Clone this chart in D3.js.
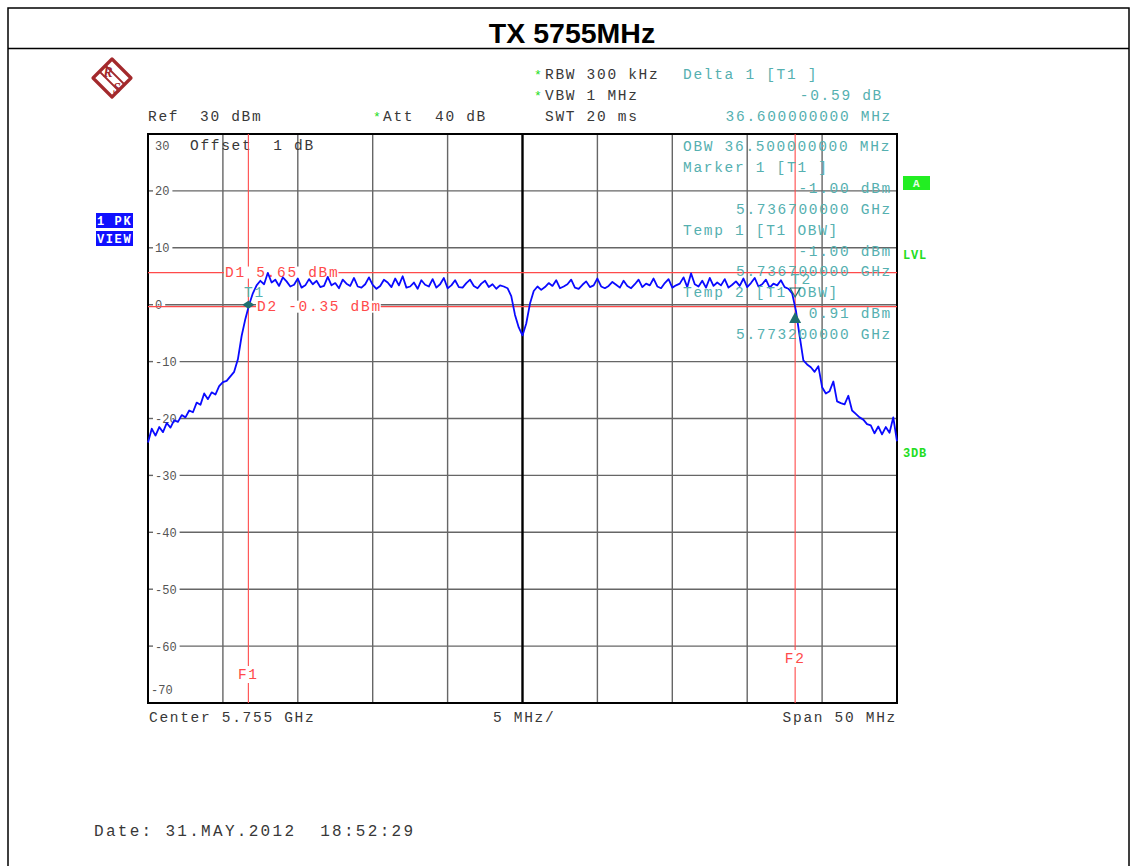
<!DOCTYPE html>
<html><head><meta charset="utf-8">
<script src="https://cdn.jsdelivr.net/npm/d3@7"></script>
<style>
html,body{margin:0;padding:0;background:#fff;}
svg{display:block;}
svg text{white-space:pre;}
</style></head>
<body>
<svg id="c" width="1131" height="866"></svg>
<script>
// ---------- data ----------
const title = "TX 5755MHz";
const spanMHz = 50;
const startOffsetMHz = -25;      // first trace point, MHz from center (5.755 GHz)
const stepMHz = 0.25;            // trace point spacing
const traceDbm = [
 -24.2,-21.8,-23.0,-21.5,-22.4,-20.8,-21.6,-20.3,-20.6,-19.4,
 -19.8,-18.6,-18.9,-17.2,-17.6,-15.6,-16.6,-15.4,-15.8,-14.3,
 -13.6,-13.4,-12.6,-11.8,-9.6,-5.5,-2.5,0.0,2.0,3.4,
 4.2,
 3.6,5.6,3.9,4.4,3.3,4.8,4.1,3.2,3.5,4.6,
 3.0,3.4,4.5,3.6,4.2,3.1,3.3,4.9,3.4,3.8,
 2.9,4.4,3.7,3.3,4.7,3.2,3.0,3.6,4.8,3.5,
 2.8,3.3,4.4,3.9,3.1,4.6,3.4,5.0,3.0,3.2,
 3.9,2.8,4.3,3.5,3.2,4.5,3.0,3.6,4.7,2.9,
 3.4,4.3,3.1,3.0,3.8,4.4,3.3,2.9,3.7,4.2,
 3.1,3.6,2.8,3.4,3.2,2.9,
 1.5,-1.8,-4.0,-5.4,-3.3,0.2,2.4,
 3.2,2.6,3.1,3.8,3.3,4.3,2.9,3.2,3.6,4.4,
 3.0,2.8,3.5,4.1,3.1,3.4,4.6,3.2,2.9,3.3,
 4.0,3.5,3.0,4.2,3.3,2.9,3.6,4.4,3.1,3.7,
 3.4,4.6,3.2,2.9,3.8,4.5,3.0,3.4,3.7,4.8,
 3.1,5.5,3.6,3.2,4.2,3.0,4.7,3.3,3.9,3.4,
 4.5,3.0,3.5,4.1,3.3,4.6,3.1,3.8,4.7,3.2,
 3.6,4.4,3.0,3.7,3.4,4.3,3.1,2.8,
 2.0,-1.0,-5.5,-9.8,-10.5,-11.0,-11.8,-10.8,-14.5,-15.6,
 -15.2,-13.5,-17.0,-17.3,-17.5,-16.0,-18.6,-19.2,-19.8,-20.2,
 -21.0,-21.2,-22.6,-21.4,-22.8,-21.5,-22.5,-19.8,-24.0
];
const yTicks = [20,10,0,-10,-20,-30,-40,-50,-60];
const yTickLabels = ["20","10","0","-10","-20","-30","-40","-50","-60"];
const xGridMHz = [-20,-15,-10,-5,5,10,15,20];
const refLevel = 30, bottomLevel = -70;
const d1Level = 5.65, d2Level = -0.35;
const f1MHz = -18.3, f2MHz = 18.2;   // 5.7367 GHz, 5.7732 GHz
const t1Dbm = 0.0;

const markerLines = [
  "OBW 36.500000000 MHz",
  "Marker 1 [T1 ]",
  "-1.00 dBm",
  "5.736700000 GHz",
  "Temp 1 [T1 OBW]",
  "-1.00 dBm",
  "5.736700000 GHz",
  "Temp 2 [T1 OBW]",
  "0.91 dBm",
  "5.773200000 GHz"
];
const markerAlign = ["l","l","r","r","l","r","r","l","r","r"];

// ---------- layout ----------
const svg = d3.select("#c");
const L = 148, R = 897, T = 134, B = 703;
const x = d3.scaleLinear().domain([startOffsetMHz, startOffsetMHz + spanMHz]).range([L, R]);
const y = d3.scaleLinear().domain([bottomLevel, refLevel]).range([B, T]);

const MONO = "'Liberation Mono', 'DejaVu Sans Mono', monospace";
const CW = 10.4; // char advance
const GRAY = "#383838", TEAL = "#55b0b0", RED = "#ff4a4a", GREEN = "#22dd22";

function mono(g, str, xs, yb, color, opts) {
  opts = opts || {};
  const cw = opts.cw || CW;
  const fs = opts.fs || 14.5;
  let x0 = xs;
  if (opts.right) x0 = xs - str.length * cw;
  return g.append("text").attr("x", x0).attr("y", yb)
    .attr("font-family", MONO).attr("font-size", fs)
    .attr("font-weight", opts.bold ? "bold" : "normal")
    .attr("letter-spacing", (cw - fs * 0.6) + "px")
    .attr("fill", color).text(str);
}

// frame
svg.append("rect").attr("x", 8).attr("y", 8).attr("width", 1121).attr("height", 900)
  .attr("fill", "none").attr("stroke", "#000").attr("stroke-width", 1.5);
svg.append("line").attr("x1", 8).attr("x2", 1129).attr("y1", 48.5).attr("y2", 48.5)
  .attr("stroke", "#000").attr("stroke-width", 1.5);
svg.append("text").attr("x", 572).attr("y", 43).attr("text-anchor", "middle")
  .attr("font-family", "'Liberation Sans', Arial, sans-serif").attr("font-weight", "bold")
  .attr("font-size", 28.5).attr("fill", "#000").text(title);

// logo
const LC = "#a3292c";
const logo = svg.append("g").attr("transform", "translate(112,78)");
logo.append("path").attr("d", "M0,-19 L19,0 L0,19 L-19,0 Z").attr("fill", "#fff")
  .attr("stroke", LC).attr("stroke-width", 3.2).attr("stroke-linejoin", "round");
logo.append("line").attr("x1", -13).attr("y1", -7).attr("x2", 7).attr("y2", 13).attr("stroke", LC).attr("stroke-width", 1.8);
logo.append("line").attr("x1", -7).attr("y1", -13).attr("x2", 13).attr("y2", 7).attr("stroke", LC).attr("stroke-width", 1.8);
logo.append("text").attr("x", -4).attr("y", -1).attr("text-anchor", "middle").attr("font-family", "'Liberation Serif', serif")
  .attr("font-style", "italic").attr("font-weight", "bold").attr("font-size", 14).attr("fill", LC).text("R");
logo.append("text").attr("x", 5).attr("y", 15).attr("text-anchor", "middle").attr("font-family", "'Liberation Serif', serif")
  .attr("font-style", "italic").attr("font-weight", "bold").attr("font-size", 14).attr("fill", LC).text("S");

// header texts
const hdr = svg.append("g");
function star(xs, yb) {
  hdr.append("text").attr("x", xs).attr("y", yb).attr("font-family", MONO).attr("font-size", 13).attr("fill", GREEN).text("*");
}
mono(hdr, "Ref  30 dBm", 148, 120.5, GRAY);
star(373, 121);
mono(hdr, "Att  40 dB", 383, 120.5, GRAY);
star(534, 79);
mono(hdr, "RBW 300 kHz", 545, 78.5, GRAY);
star(534, 100);
mono(hdr, "VBW 1 MHz", 545, 99.5, GRAY);
mono(hdr, "SWT 20 ms", 545, 120.5, GRAY);
mono(hdr, "Delta 1 [T1 ]", 683, 78.5, TEAL);
mono(hdr, "-0.59 dB", 883, 99.5, TEAL, {right:true});
mono(hdr, "36.600000000 MHz", 892, 120.5, TEAL, {right:true});

// PK / VIEW boxes
svg.append("rect").attr("x", 96).attr("y", 213).attr("width", 37).attr("height", 15).attr("fill", "#1010ff");
svg.append("rect").attr("x", 96).attr("y", 231).attr("width", 37).attr("height", 15).attr("fill", "#1010ff");
mono(svg, "1 PK", 97, 225, "#fff", {fs:12, cw:8.8, bold:true});
mono(svg, "VIEW", 97, 243, "#fff", {fs:12, cw:8.8, bold:true});

// plot grid
const GRID = "#666";
const grid = svg.append("g");
grid.selectAll("line.v").data(xGridMHz).join("line")
  .attr("x1", d => x(d)).attr("x2", d => x(d)).attr("y1", T).attr("y2", B)
  .attr("stroke", GRID).attr("stroke-width", 1.4);
grid.selectAll("line.h").data(yTicks).join("line")
  .attr("x1", (d, i) => 155 + yTickLabels[i].length * 7.2 + 3).attr("x2", R).attr("y1", d => y(d)).attr("y2", d => y(d))
  .attr("stroke", GRID).attr("stroke-width", 1.4);
grid.selectAll("line.tk").data(yTicks).join("line")
  .attr("x1", L).attr("x2", L + 5).attr("y1", d => y(d)).attr("y2", d => y(d))
  .attr("stroke", GRID).attr("stroke-width", 1.4);
yTicks.forEach((d, i) => mono(grid, yTickLabels[i], 155, y(d) + 4.5, "#555", {fs:12, cw:7.2}));
// center line
grid.append("line").attr("x1", x(0)).attr("x2", x(0)).attr("y1", T).attr("y2", B)
  .attr("stroke", "#000").attr("stroke-width", 2.4);
// frame
svg.append("rect").attr("x", L).attr("y", T).attr("width", R - L).attr("height", B - T)
  .attr("fill", "none").attr("stroke", "#000").attr("stroke-width", 2);

mono(svg, "30", 155, 150, "#555", {fs:12, cw:7.2});
mono(svg, "Offset  1 dB", 190, 150, GRAY);
mono(svg, "-70", 151, 694, "#555", {fs:12, cw:7.2});

// red display lines
const red = svg.append("g");
red.append("line").attr("x1", L).attr("x2", R).attr("y1", y(d1Level)).attr("y2", y(d1Level)).attr("stroke", RED).attr("stroke-width", 1.3);
red.append("line").attr("x1", L).attr("x2", R).attr("y1", y(d2Level)).attr("y2", y(d2Level)).attr("stroke", RED).attr("stroke-width", 1.3);
red.append("line").attr("x1", x(f1MHz)).attr("x2", x(f1MHz)).attr("y1", T).attr("y2", B).attr("stroke", RED).attr("stroke-width", 1.1);
red.append("line").attr("x1", x(f2MHz)).attr("x2", x(f2MHz)).attr("y1", T).attr("y2", B).attr("stroke", RED).attr("stroke-width", 1.1);
function redLabel(str, xs, yb) {
  const w = str.length * CW;
  red.append("rect").attr("x", xs - 1).attr("y", yb - 10).attr("width", w).attr("height", 12).attr("fill", "#fff");
  mono(red, str, xs, yb, RED);
}
function fLabel(str, cx, yb) {
  red.append("rect").attr("x", cx - 11).attr("y", yb - 13).attr("width", 22).attr("height", 17).attr("fill", "#fff");
  mono(red, str, cx - CW, yb, RED);
}
fLabel("F1", x(f1MHz), 679);
fLabel("F2", x(f2MHz), 663);

// trace
const pts = traceDbm.map((v, i) => [startOffsetMHz + i * stepMHz, v]);
svg.append("path").datum(pts)
  .attr("d", d3.line().x(d => x(d[0])).y(d => y(d[1])))
  .attr("fill", "none").attr("stroke", "#0a0aff").attr("stroke-width", 1.8).attr("stroke-linejoin", "round");

redLabel("D1 5.65 dBm", 225, y(d1Level) + 4);
redLabel("D2 -0.35 dBm", 257, y(d2Level) + 4);

// marker info (teal)
const mk = svg.append("g");
markerLines.forEach((s, i) => {
  const yb = 151 + i * 20.9;
  if (markerAlign[i] === "l") mono(mk, s, 683, yb, TEAL);
  else mono(mk, s, 892, yb, TEAL, {right:true});
});

// markers
const mx1 = x(f1MHz), my1 = y(t1Dbm);
svg.append("path").attr("d", `M${mx1-6},${my1} L${mx1},${my1-4} L${mx1+6},${my1} L${mx1},${my1+4} Z`).attr("fill", "#1f6f6f");
mono(svg, "T1", 244, 297, TEAL);
const mx2 = x(f2MHz);
svg.append("path").attr("d", `M${mx2-5},${288} L${mx2+5},${288} L${mx2},${297} Z`).attr("fill", "none").attr("stroke", "#1f6f6f").attr("stroke-width", 1.2);
mono(svg, "T2", 791, 284, TEAL);
svg.append("path").attr("d", `M${mx2-6},${323} L${mx2+6},${323} L${mx2},${312} Z`).attr("fill", "#1f6f6f");

// right side indicators
svg.append("rect").attr("x", 903).attr("y", 176).attr("width", 27).attr("height", 14).attr("fill", "#22ee22");
mono(svg, "A", 913, 187, "#e8ffe8", {fs:11, cw:7, bold:true});
mono(svg, "LVL", 903, 259, GREEN, {fs:12, cw:8, bold:true});
mono(svg, "3DB", 903, 457, GREEN, {fs:12, cw:8, bold:true});

// bottom
mono(svg, "Center 5.755 GHz", 149, 722, GRAY);
mono(svg, "5 MHz/", 493, 722, GRAY);
mono(svg, "Span 50 MHz", 897, 722, GRAY, {right:true});
mono(svg, "Date: 31.MAY.2012  18:52:29", 94, 836, GRAY, {fs:16, cw:11.9});
</script>
</body></html>
